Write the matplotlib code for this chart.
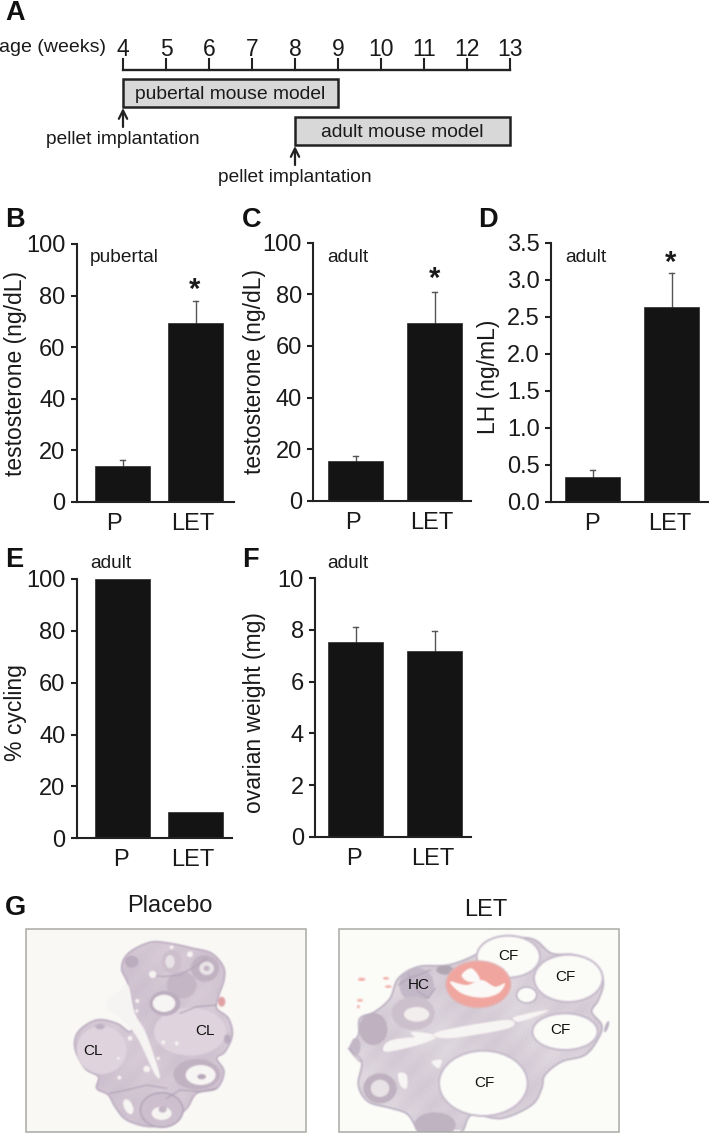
import numpy as np
import matplotlib
matplotlib.use('Agg')
import matplotlib.pyplot as plt
from matplotlib.path import Path
from matplotlib.patches import PathPatch, Ellipse, Rectangle

plt.rcParams['font.family'] = ['Liberation Sans', 'DejaVu Sans']

W, H = 709, 1142
bar_color = '#141414'
err_color = '#555555'
text_color = '#1a1a1a'

# Panel A
weeks = [4, 5, 6, 7, 8, 9, 10, 11, 12, 13]
model_names = ['pubertal mouse model', 'adult mouse model']
model_start = [4, 8]
model_end = [9, 13]

# Bar panels
bar_labels = ['P', 'LET']
b_values = [14, 69.5]
b_tops = [16, 78]
c_values = [15.5, 69]
c_tops = [17.5, 81]
d_values = [0.34, 2.63]
d_tops = [0.43, 3.09]
e_values = [100, 10.3]
f_values = [7.55, 7.2]
f_tops = [8.1, 7.95]

fig = plt.figure(figsize=(W / 100, H / 100), dpi=100)

# overlay in pixel coordinates for panel letters and the two micrographs
bg = fig.add_axes([0, 0, 1, 1])
bg.set_xlim(0, W)
bg.set_ylim(H, 0)
bg.axis('off')


def add_axes_px(left, right, top, bottom):
    return fig.add_axes([left / W, 1 - bottom / H, (right - left) / W, (bottom - top) / H])


def bar_panel(left, right, top, bottom, ymax, yticks, fmt, values, tops, centers, label_x,
              ylabel, ylabel_xy, tag, tag_xy, star_xy=None):
    ax = add_axes_px(left, right, top, bottom)
    ax.patch.set_alpha(0)
    ax.set_xlim(left, right)
    ax.set_ylim(0, ymax)
    ax.bar(centers, values, width=55, color=bar_color, edgecolor='#2a2a2a', linewidth=0.5, zorder=2)
    if tops is not None:
        for c, v, t in zip(centers, values, tops):
            ax.plot([c, c], [v, t], color=err_color, lw=1, zorder=1)
            ax.plot([c - 2.5, c + 2.5], [t, t], color=err_color, lw=1, zorder=1)
    ax.spines['top'].set_visible(False)
    ax.spines['right'].set_visible(False)
    ax.spines['left'].set_linewidth(1.5)
    ax.spines['bottom'].set_linewidth(1.5)
    ax.spines['left'].set_color('#222222')
    ax.spines['bottom'].set_color('#222222')
    ax.set_yticks(yticks)
    ax.set_yticklabels([fmt % t for t in yticks], fontsize=17, color=text_color)
    ax.tick_params(axis='y', length=4, width=1.5, pad=4, color='#222222')
    ax.set_xticks(label_x)
    ax.set_xticklabels(bar_labels, fontsize=17, color=text_color)
    ax.tick_params(axis='x', length=0, pad=8)
    bg.text(ylabel_xy[0], ylabel_xy[1], ylabel, rotation=90, ha='center', va='center',
            fontsize=16.5, color=text_color)
    bg.text(tag_xy[0], tag_xy[1], tag, ha='left', va='center', fontsize=13.8, color=text_color)
    if star_xy is not None:
        bg.text(star_xy[0], star_xy[1], '*', ha='center', va='center', fontsize=21,
                fontweight='bold', color=text_color)
    return ax


bar_panel(76.5, 234, 244, 501.7, 100, [0, 20, 40, 60, 80, 100], '%d', b_values, b_tops,
          [122.5, 195.5], [114, 193], 'testosterone (ng/dL)', (16, 373), 'pubertal', (90, 258), (195, 290))
bar_panel(313, 471, 242.7, 500.7, 100, [0, 20, 40, 60, 80, 100], '%d', c_values, c_tops,
          [355.5, 434.5], [353, 432], 'testosterone (ng/dL)', (255, 372), 'adult', (327, 257), (435, 279))
bar_panel(551, 709, 242.7, 501.7, 3.5, [0, 0.5, 1, 1.5, 2, 2.5, 3, 3.5], '%.1f', d_values, d_tops,
          [592.5, 671.5], [591.5, 670], 'LH (ng/mL)', (489, 377), 'adult', (565, 258), (670.5, 263))
bar_panel(76.5, 231.5, 579, 838.3, 100, [0, 20, 40, 60, 80, 100], '%d', e_values, None,
          [122.5, 195.5], [120.5, 193], '% cycling', (16, 713), 'adult', (90, 564))
bar_panel(315, 471, 578.3, 836.7, 10, [0, 2, 4, 6, 8, 10], '%d', f_values, f_tops,
          [355.5, 434.5], [354, 433], 'ovarian weight (mg)', (255, 713), 'adult', (327, 564))

# Panel A timeline, x axis in weeks, y in pixels
ax_a = add_axes_px(123, 510, 0, 190)
ax_a.patch.set_alpha(0)
ax_a.set_xlim(4, 13)
ax_a.set_ylim(190, 0)
ax_a.axis('off')
ax_a.plot([weeks[0], weeks[-1]], [70, 70], color='#222222', lw=1.7, clip_on=False)
for wk in weeks:
    ax_a.plot([wk, wk], [59, 70], color='#222222', lw=1.5, clip_on=False)
    ax_a.text(wk, 49, str(wk), ha='center', va='center', fontsize=16.5, color=text_color, clip_on=False)
for name, start, end, ytop in zip(model_names, model_start, model_end, [79, 117]):
    ax_a.add_patch(Rectangle((start, ytop), end - start, 28, facecolor='#d8d8d8', edgecolor='#222222',
                             lw=1.8, clip_on=False))
    ax_a.text((start + end) / 2, ytop + 15.5, name, ha='center', va='center', fontsize=13.9, color=text_color)
    ax_a.annotate('', xy=(start, ytop + 29), xytext=(start, ytop + 48),
                  arrowprops=dict(arrowstyle='->', lw=1.6, color='#222222', shrinkA=0, shrinkB=0,
                                  mutation_scale=15))
    ax_a.text(start, ytop + 60, 'pellet implantation', ha='center', va='center', fontsize=13.8, color=text_color,
              clip_on=False)
bg.text(-1, 48, 'age (weeks)', ha='left', va='center', fontsize=14, color=text_color)

# Panel letters
for letter, x, y in [('A', 5, 13), ('B', 5, 220), ('C', 242, 220), ('D', 478, 220),
                     ('E', 5, 560), ('F', 242, 560), ('G', 5, 908)]:
    bg.text(x, y, letter, ha='left', va='center', fontsize=19.5, fontweight='bold', color='#111111')

bg.text(170, 906, 'Placebo', ha='center', va='center', fontsize=17, color=text_color)
bg.text(486, 910, 'LET', ha='center', va='center', fontsize=17, color=text_color)

# Micrographs are painted on a scratch canvas, blurred, and placed as one image
mg_fig = plt.figure(figsize=(W / 100, H / 100), dpi=100)
mg = mg_fig.add_axes([0, 0, 1, 1])
mg.set_xlim(0, W)
mg.set_ylim(H, 0)
mg.axis('off')


def smooth(points, ox, oy, n=12):
    # closed Catmull-Rom through the points, given in 3x crop coordinates
    p = np.array(points, dtype=float)
    p = np.column_stack([ox + p[:, 0] / 3, oy + p[:, 1] / 3])
    out = []
    m = len(p)
    for i in range(m):
        p0, p1, p2, p3 = p[(i - 1) % m], p[i], p[(i + 1) % m], p[(i + 2) % m]
        for t in np.linspace(0, 1, n, endpoint=False):
            out.append(0.5 * (2 * p1 + (p2 - p0) * t + (2 * p0 - 5 * p1 + 4 * p2 - p3) * t ** 2
                              + (3 * p1 - p0 - 3 * p2 + p3) * t ** 3))
    out = np.array(out)
    return Path(np.vstack([out, out[0]]), closed=True)


def texture(x0, x1, y0, y1, base, dark):
    # stain-like mottling from a few crossed sines
    xs, ys = np.meshgrid(np.arange(x0, x1), np.arange(y0, y1))
    m = (np.sin(xs * 1.7 + ys * 0.6) + np.sin(xs * 0.53 - ys * 1.9) + np.sin((xs + ys) * 0.23) * 0.8
         + np.sin(xs * 0.06 - ys * 0.045) * 1.5)
    m = (m - m.min()) / (m.max() - m.min())
    base = np.array(matplotlib.colors.to_rgb(base))
    dark = np.array(matplotlib.colors.to_rgb(dark))
    return base[None, None, :] * (1 - m[..., None]) + dark[None, None, :] * m[..., None]


def tissue(path, x0, x1, y0, y1, base, dark, edge):
    im = mg.imshow(texture(x0, x1, y0, y1, base, dark), extent=(x0, x1, y1, y0), aspect='auto',
                   interpolation='bilinear', zorder=2)
    patch = PathPatch(path, facecolor='none', edgecolor=edge, lw=1.2, zorder=3)
    mg.add_patch(patch)
    im.set_clip_path(patch)


def blob(ox, oy, cx, cy, rx, ry, color, edge='none', lw=0, angle=0, z=4):
    mg.add_patch(Ellipse((ox + cx / 3, oy + cy / 3), 2 * rx / 3, 2 * ry / 3, angle=angle, facecolor=color,
                         edgecolor=edge, lw=lw, zorder=z))


def streak(ox, oy, pts, color='#f4f1ef', z=4):
    mg.add_patch(PathPatch(smooth(pts, ox, oy), facecolor=color, edgecolor='none', zorder=z))


def curve(ox, oy, xs, ys, color='#9b88a2', lw=0.8, z=3.6):
    mg.plot(ox + np.array(xs) / 3, oy + np.array(ys) / 3, color=color, lw=lw, zorder=z)


mg.add_patch(Rectangle((20, 925), 290, 215, facecolor='#f8f7f3', edgecolor='none', zorder=1))
mg.add_patch(Rectangle((330, 925), 295, 215, facecolor='#fafaf6', edgecolor='none', zorder=1))

# placebo section
ox, oy = 20, 925
placebo_outline = [(390, 52), (450, 55), (520, 70), (575, 85), (610, 125), (612, 165), (595, 215), (590, 250),
                   (625, 280), (637, 330), (615, 380), (590, 400), (612, 440), (590, 490), (530, 505), (500, 550),
                   (450, 590), (390, 605), (320, 585), (285, 545), (265, 510), (230, 490), (235, 455), (195, 430),
                   (165, 370), (175, 320), (230, 285), (290, 295), (330, 320), (345, 280), (325, 180), (305, 130),
                   (325, 85)]
tissue(smooth(placebo_outline, ox, oy), 60, 300, 935, 1130, '#d2c2d0', '#bba9bd', '#ab98b1')
blob(ox, oy, 335, 110, 20, 18, '#a794ab', z=3.5)
blob(ox, oy, 485, 180, 45, 40, '#b5a2b7', z=3.5)
blob(ox, oy, 455, 110, 30, 35, '#bfadbe', z=3.5)
blob(ox, oy, 450, 110, 14, 20, '#e2dadf', z=3.6)
blob(ox, oy, 555, 130, 42, 40, '#b09db2', z=3.5)
blob(ox, oy, 560, 130, 22, 20, '#e4dde0', z=4)
blob(ox, oy, 560, 130, 9, 8, '#b5a3b6', z=4.1)
blob(ox, oy, 435, 235, 46, 37, '#a996ad', z=3.7)
blob(ox, oy, 432, 235, 34, 26, '#f6f3f0')
blob(ox, oy, 530, 448, 70, 46, '#b09db2', z=3.7)
blob(ox, oy, 542, 450, 45, 30, '#f6f3f0')
blob(ox, oy, 545, 455, 13, 8, '#a593a8')
blob(ox, oy, 425, 555, 64, 52, '#bfadbf', edge='#9c89a4', lw=1, z=3.5)
blob(ox, oy, 425, 565, 30, 20, '#f4f1ef')
blob(ox, oy, 428, 553, 12, 10, '#b3a1b4')
blob(ox, oy, 325, 545, 13, 24, '#f6f3f0', angle=-25)
blob(ox, oy, 605, 230, 11, 15, '#d9898e')
blob(ox, oy, 290, 232, 7, 4, '#d79c9c')
blob(ox, oy, 245, 375, 75, 72, '#d6c8d4', z=3.4)
blob(ox, oy, 510, 320, 108, 72, '#d6c8d4', z=3.4)
blob(ox, oy, 622, 342, 10, 14, '#a795ad')
blob(ox, oy, 240, 305, 14, 8, '#ae9cb2')
for cx, cy, r in [(398, 148, 11), (510, 88, 9), (455, 67, 6), (380, 432, 10), (298, 458, 6), (430, 352, 6),
                  (470, 355, 6), (352, 228, 6), (330, 340, 7), (415, 400, 5), (350, 258, 5), (295, 400, 4)]:
    blob(ox, oy, cx, cy, r, r, '#f3efee')
streak(ox, oy, [(300, 195), (325, 180), (345, 265), (378, 325), (418, 445), (405, 448), (350, 335), (300, 280),
                (255, 240)])
curve(ox, oy, [390, 430, 480, 525, 560], [150, 155, 150, 125, 100])
curve(ox, oy, [440, 480, 540, 590], [520, 495, 500, 490])
curve(ox, oy, [270, 320, 380, 440], [505, 495, 480, 490])
curve(ox, oy, [480, 530, 590], [265, 245, 240])

# LET section
ox, oy = 335, 925
let_outline = [(45, 370), (70, 330), (75, 280), (120, 260), (165, 220), (190, 160), (250, 125), (340, 120), (420, 90),
               (470, 50), (540, 38), (600, 45), (650, 85), (720, 90), (780, 120), (805, 170), (790, 225), (770, 260),
               (800, 300), (790, 340), (750, 390), (680, 410), (630, 450), (620, 490), (590, 540), (500, 580),
               (410, 570), (380, 620), (320, 640), (260, 630), (220, 570), (170, 550), (100, 530), (70, 480), (80, 410)]
tissue(smooth(let_outline, ox, oy), 345, 615, 932, 1130, '#dcd4db', '#c0b3c3', '#a99bb1')
blob(ox, oy, 115, 312, 42, 48, '#ad9bae', z=3.5)
blob(ox, oy, 135, 490, 50, 45, '#ad9cae', z=3.5)
blob(ox, oy, 135, 490, 28, 26, '#e2dbdf', z=3.6)
blob(ox, oy, 235, 265, 65, 50, '#bfafbf', z=3.5)
blob(ox, oy, 245, 268, 38, 22, '#efeaea', z=3.6)
blob(ox, oy, 245, 180, 52, 52, '#b3a5b8', z=3.4)
blob(ox, oy, 300, 600, 62, 38, '#ad9db0', z=3.5)
blob(ox, oy, 330, 135, 26, 14, '#9c8f9e', z=3.5)
blob(ox, oy, 62, 365, 15, 26, '#b3a2b6', z=3.5)
for cx, cy, rx, ry in [(445, 475, 130, 95), (520, 95, 92, 60), (700, 160, 100, 68), (690, 320, 95, 52)]:
    blob(ox, oy, cx, cy, rx + 6, ry + 6, '#b7a9bd', z=3.7)
    blob(ox, oy, cx, cy, rx, ry, '#fafaf7')
blob(ox, oy, 575, 210, 30, 24, '#fafaf7', edge='#a799ae', lw=1)
blob(ox, oy, 430, 178, 97, 70, '#ed8d85', edge='#d9a0a0', lw=1)
streak(ox, oy, [(345, 170), (395, 180), (440, 165), (480, 185), (510, 175), (490, 205), (440, 218), (380, 205)],
       color='#fbf8f6', z=4.2)
streak(ox, oy, [(410, 130), (435, 165), (400, 170), (380, 150)], color='#fbf8f6', z=4.2)
for pts in [[(170, 345), (300, 335), (250, 360), (150, 380)], [(310, 320), (510, 285), (520, 310), (340, 340)],
            [(190, 445), (215, 450), (215, 490), (195, 480)], [(290, 410), (320, 405), (310, 430)],
            [(540, 275), (640, 255), (600, 275), (550, 290)], [(230, 320), (300, 330), (250, 340)]]:
    streak(ox, oy, pts, color='#f6f2f1')
for cx, cy, rx, ry in [(80, 163, 11, 5), (153, 160, 9, 4), (160, 185, 10, 4), (75, 226, 9, 4), (70, 245, 4, 5)]:
    blob(ox, oy, cx, cy, rx, ry, '#ef9c94')
blob(ox, oy, 815, 305, 5, 18, '#a99bb1', angle=20)
curve(ox, oy, [40, 60, 75], [370, 395, 410])
curve(ox, oy, [220, 250, 280, 300], [150, 200, 220, 190])
curve(ox, oy, [190, 220, 250, 285], [180, 160, 150, 135])

# blur the scratch canvas lightly and wash it out towards white
mg_fig.canvas.draw()
rgb = np.asarray(mg_fig.canvas.buffer_rgba())[929:1132, 26:619, :3].astype(float)
plt.close(mg_fig)
kernel = np.array([1, 2, 1], dtype=float)
kernel /= kernel.sum()
pad = np.pad(rgb, ((2, 2), (2, 2), (0, 0)), mode='edge')
pad = np.apply_along_axis(lambda v: np.convolve(v, kernel, mode='same'), 0, pad)
pad = np.apply_along_axis(lambda v: np.convolve(v, kernel, mode='same'), 1, pad)
soft = pad[2:-2, 2:-2] / 255
soft = soft * 0.78 + 0.22
bg.imshow(soft, extent=(26, 619, 1132, 929), aspect='auto', interpolation='bilinear', zorder=2)
# white gutter between the two micrographs
bg.add_patch(Rectangle((306, 926), 32.5, 209, facecolor='white', edgecolor='none', zorder=2.5))
bg.add_patch(Rectangle((26, 929), 280, 203, facecolor='none', edgecolor='#a9a9a5', lw=1.1, zorder=3))
bg.add_patch(Rectangle((338.5, 929), 280.5, 203, facecolor='none', edgecolor='#a9a9a5', lw=1.1, zorder=3))

for cx, cy, s in [(220, 378, 'CL'), (555, 318, 'CL')]:
    bg.text(20 + cx / 3, 925 + cy / 3, s, ha='center', va='center', fontsize=11, color='#111111', zorder=6)
for cx, cy, s in [(520, 92, 'CF'), (690, 157, 'CF'), (675, 315, 'CF'), (447, 475, 'CF'), (250, 180, 'HC')]:
    bg.text(335 + cx / 3, 925 + cy / 3, s, ha='center', va='center', fontsize=11, color='#111111', zorder=6)

# imshow resets the limits
bg.set_xlim(0, W)
bg.set_ylim(H, 0)

fig.savefig('out.png', dpi=100)
